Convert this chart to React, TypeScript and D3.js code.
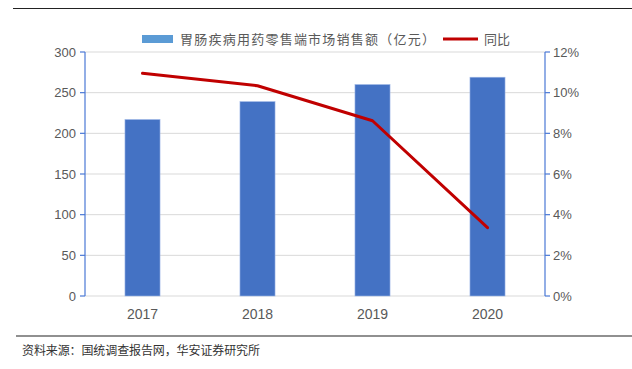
import React from "react";
import * as d3 from "d3";

const categories = ["2017", "2018", "2019", "2020"];
const salesValues = [217, 239, 260, 269];
const yoyValues = [10.95, 10.34, 8.62, 3.36];
const leftTicks = [0, 50, 100, 150, 200, 250, 300];
const rightTicks = [0, 2, 4, 6, 8, 10, 12];
const barLegend = "胃肠疾病用药零售端市场销售额（亿元）";
const lineLegend = "同比";
const sourceText = "资料来源：国统调查报告网，华安证券研究所";

const W = 632;
const H = 369;
const left = 85;
const right = 545;
const top = 52;
const bottom = 296;

export default function App() {
  const x = d3.scaleBand<string>().domain(categories).range([left, right]).paddingInner(0.695).paddingOuter(0.3475);
  const yL = d3.scaleLinear().domain([0, 300]).range([bottom, top]);
  const yR = d3.scaleLinear().domain([0, 12]).range([bottom, top]);
  const line = d3
    .line<number>()
    .x((_, i) => (x(categories[i]) as number) + x.bandwidth() / 2)
    .y((d) => yR(d));
  const axisColor = "#4a78d6";
  const textColor = "#595959";
  const cjk = "'Noto Sans CJK SC', sans-serif";
  const num = "'Liberation Sans', Arial, sans-serif";
  return (
    <svg width={W} height={H} style={{ position: "absolute", left: 0, top: 0, background: "#fff" }}>
      <rect x={0} y={0} width={W} height={H} fill="#fff" />
      <line x1={13} x2={632} y1={8.5} y2={8.5} stroke="#222" strokeWidth={1.2} />
      {leftTicks.map((t) => (
        <line key={"g" + t} x1={left} x2={right} y1={yL(t)} y2={yL(t)} stroke="#d9d9d9" strokeWidth={1} />
      ))}
      {categories.map((c, i) => (
        <rect
          key={c}
          x={x(c)}
          y={yL(salesValues[i])}
          width={x.bandwidth()}
          height={bottom - yL(salesValues[i])}
          fill="#4472c4"
          stroke="#9fb8e6"
          strokeWidth={0.6}
        />
      ))}
      <path d={line(yoyValues) || ""} fill="none" stroke="#c00000" strokeWidth={3} strokeLinecap="round" strokeLinejoin="round" />
      <line x1={left} x2={left} y1={top} y2={bottom} stroke={axisColor} strokeWidth={1.2} />
      {leftTicks.map((t) => (
        <g key={"l" + t}>
          <line x1={left - 5} x2={left} y1={yL(t)} y2={yL(t)} stroke={axisColor} strokeWidth={1.2} />
          <text x={left - 9} y={yL(t)} dy="0.35em" textAnchor="end" fontSize={13} fill={textColor} fontFamily={num}>
            {t}
          </text>
        </g>
      ))}
      <line x1={right} x2={right} y1={top} y2={bottom} stroke={axisColor} strokeWidth={1.2} />
      {rightTicks.map((t) => (
        <g key={"r" + t}>
          <line x1={right} x2={right + 5} y1={yR(t)} y2={yR(t)} stroke={axisColor} strokeWidth={1.2} />
          <text x={right + 8} y={yR(t)} dy="0.35em" textAnchor="start" fontSize={13} fill={textColor} fontFamily={num}>
            {t + "%"}
          </text>
        </g>
      ))}
      {categories.map((c) => (
        <text key={"x" + c} x={(x(c) as number) + x.bandwidth() / 2} y={319} textAnchor="middle" fontSize={14} fill={textColor} fontFamily={num}>
          {c}
        </text>
      ))}
      <rect x={142} y={35} width={31} height={8} fill="#5b9bd5" />
      <text x={180} y={43.5} fontSize={13} fill={textColor} fontFamily={cjk} textLength={255} lengthAdjust="spacing">
        {barLegend}
      </text>
      <line x1={443} x2={478} y1={39} y2={39} stroke="#c00000" strokeWidth={3} />
      <text x={484} y={43.5} fontSize={13} fill={textColor} fontFamily={cjk}>
        {lineLegend}
      </text>
      <line x1={16} x2={632} y1={336} y2={336} stroke="#222" strokeWidth={1.2} />
      <text x={22} y={355} fontSize={12} fill="#333" fontFamily={cjk} textLength={238} lengthAdjust="spacing">
        {sourceText}
      </text>
    </svg>
  );
}
